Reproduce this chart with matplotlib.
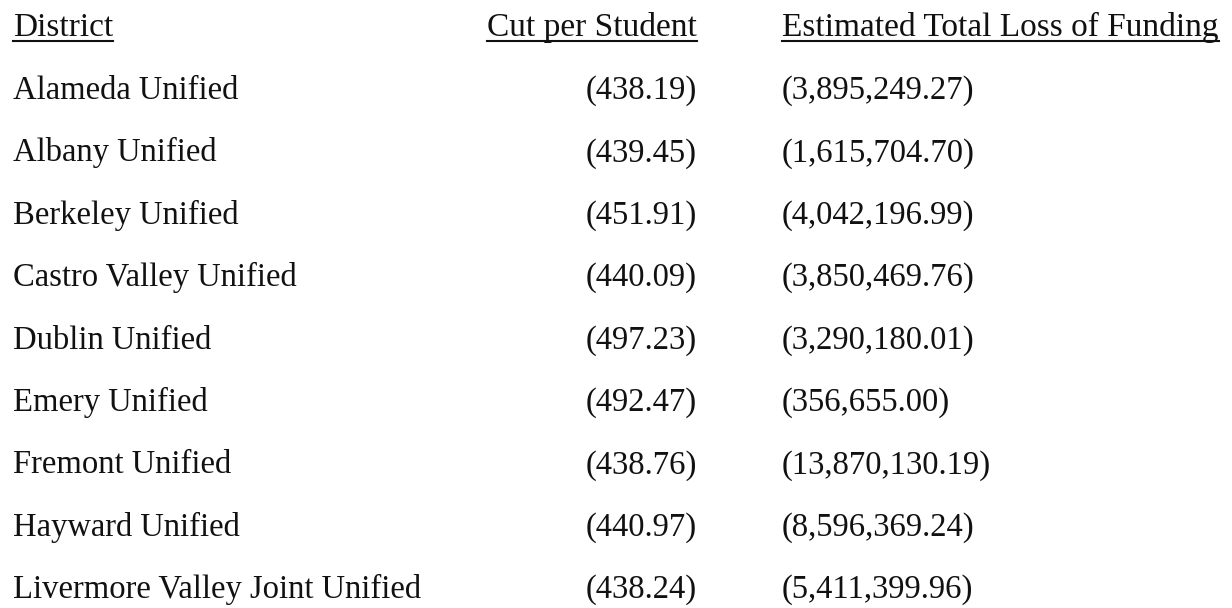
import matplotlib.pyplot as plt
from matplotlib.lines import Line2D

districts = [
    "Alameda Unified",
    "Albany Unified",
    "Berkeley Unified",
    "Castro Valley Unified",
    "Dublin Unified",
    "Emery Unified",
    "Fremont Unified",
    "Hayward Unified",
    "Livermore Valley Joint Unified",
]
cut_per_student = [438.19, 439.45, 451.91, 440.09, 497.23, 492.47, 438.76, 440.97, 438.24]
total_loss = [3895249.27, 1615704.70, 4042196.99, 3850469.76, 3290180.01,
              356655.00, 13870130.19, 8596369.24, 5411399.96]
headers = ["District", "Cut per Student", "Estimated Total Loss of Funding"]

W, H = 1232, 608
FONT = "Liberation Serif"
SIZE = 23.5
INK = "#111111"


def px(x, y):
    return x / W, 1 - y / H


def label(x, y, s, ha, size=SIZE):
    return fig.text(*px(x, y), s, ha=ha, va="baseline", family=FONT,
                    fontsize=size, color=INK)


fig = plt.figure(figsize=(W / 100, H / 100), dpi=100)
fig.patch.set_facecolor("white")

col1_left, col2_right, col3_left = 13, 697, 782
header_base = 36
row_base0, row_step = 99, 62.4

header_texts = [
    label(col1_left, header_base, headers[0], "left", 24),
    label(col2_right, header_base, headers[1], "right", 24),
    label(col3_left, header_base, headers[2], "left", 24),
]

for i, name in enumerate(districts):
    y = row_base0 + i * row_step
    label(col1_left, y, name, "left")
    label(col2_right, y, "({:,.2f})".format(cut_per_student[i]), "right")
    label(col3_left, y, "({:,.2f})".format(total_loss[i]), "left")

# underline the headers
renderer = fig.canvas.get_renderer()
for t in header_texts:
    bb = t.get_window_extent(renderer=renderer)
    uy = 1 - 41 / H
    fig.add_artist(Line2D([bb.x0 / W, bb.x1 / W], [uy, uy], transform=fig.transFigure,
                          color=INK, linewidth=1.5))

fig.savefig("out.png", dpi=100, facecolor="white")
